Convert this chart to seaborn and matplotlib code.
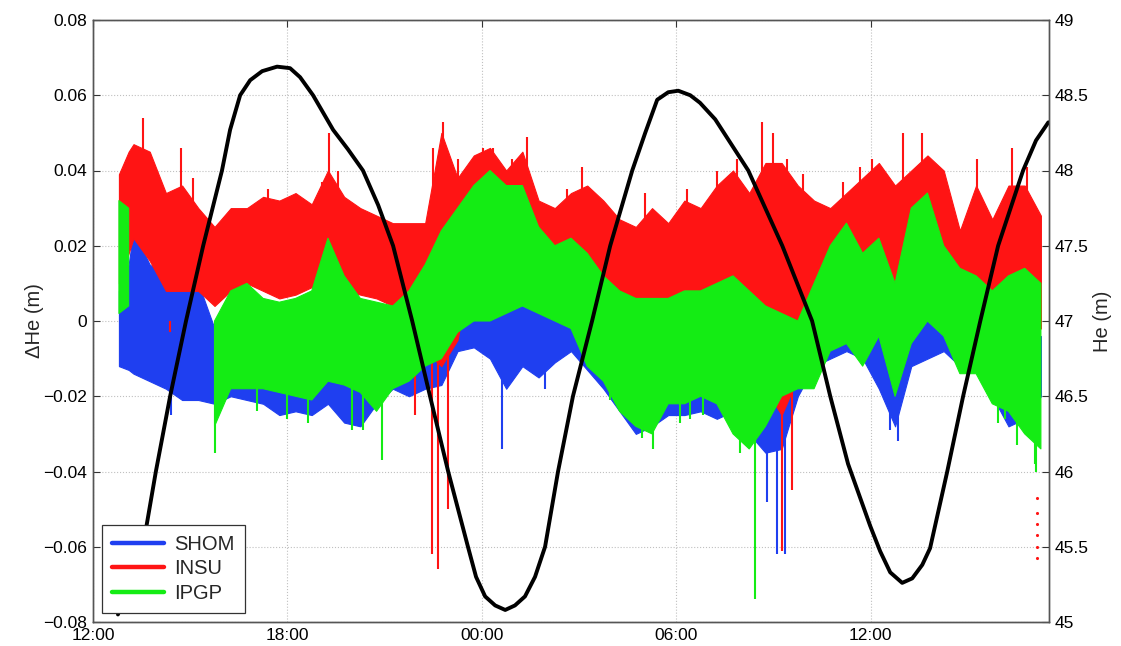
import numpy as np
import pandas as pd
import matplotlib
matplotlib.use('Agg')
import matplotlib.pyplot as plt
from matplotlib.lines import Line2D
from matplotlib.ticker import FuncFormatter
import seaborn as sns

# sample times, hours after 12:00 on day 1
hours = [0.8, 1.1, 1.25, 1.75, 2.25, 2.75, 3.25, 3.75, 4.25, 4.75, 5.25, 5.75, 6.25, 6.75,
         7.25, 7.75, 8.25, 8.75, 9.25, 9.75, 10.25, 10.75, 11.25, 11.75, 12.25, 12.75,
         13.25, 13.75, 14.25, 14.75, 15.25, 15.75, 16.25, 16.75, 17.25, 17.75, 18.25,
         18.75, 19.25, 19.75, 20.25, 20.75, 21.25, 21.75, 22.25, 22.75, 23.25, 23.75,
         24.25, 24.75, 25.25, 25.75, 26.25, 26.75, 27.25, 27.75, 28.25, 28.75, 29.25]

# SHOM (blue) envelope
shom_hi = [.008, .015, .024, .015, .012, .010, .010, -.002, -.004, -.004, -.004, -.004, -.004,
           -.004, .000, -.004, -.004, -.004, -.004, -.002, .002, .004, .010, .012, .014, .012,
           .016, .010, .008, .008, .004, .000, -.004, -.006, -.006, -.004, -.004, -.004, -.004,
           -.004, -.004, .010, .010, .008, .006, .006, .006, .006, .004, .002, .008, .008, .004,
           .000, -.002, -.004, -.004, -.004, -.004]
shom_lo = [-.012, -.013, -.014, -.016, -.018, -.021, -.021, -.022, -.020, -.021, -.022, -.025,
           -.024, -.025, -.022, -.027, -.028, -.022, -.018, -.020, -.018, -.017, -.008, -.007,
           -.010, -.018, -.012, -.015, -.011, -.008, -.013, -.018, -.024, -.030, -.028, -.025,
           -.025, -.024, -.026, -.024, -.030, -.035, -.034, -.020, -.012, -.010, -.008, -.010,
           -.018, -.028, -.012, -.010, -.008, -.012, -.010, -.020, -.028, -.026, -.020]

# INSU (red) envelope
insu_hi = [.039, .045, .047, .045, .034, .036, .030, .025, .030, .030, .033, .032, .034, .031,
           .040, .033, .030, .028, .026, .026, .026, .050, .038, .044, .046, .040, .045, .032,
           .030, .034, .036, .032, .027, .025, .030, .026, .032, .030, .036, .040, .034, .042,
           .042, .036, .032, .030, .034, .038, .042, .036, .040, .044, .040, .024, .036, .027,
           .036, .036, .028]
insu_lo = [.010, .018, .022, .016, .008, .008, .008, .004, .008, .010, .008, .006, .007, .009,
           .012, .008, .007, .006, .004, .000, -.008, -.012, -.005, .018, .020, .020, .020, .015,
           .012, .008, .008, .004, .000, -.003, -.006, .000, .000, .000, .002, .000, -.005,
           -.018, -.025, -.015, -.004, .004, .010, .008, .006, .000, .000, .006, .008, .006,
           .004, .004, .003, .000, -.002]

# IPGP (green) envelope, nan = no data
nan = np.nan
ipgp_hi = [.032, .030, nan, nan, nan, nan, nan, .000, .008, .010, .006, .005, .006, .008,
           .022, .012, .006, .005, .004, .008, .015, .024, .030, .036, .040, .036, .036, .025,
           .020, .022, .018, .012, .008, .006, .006, .006, .008, .008, .010, .012, .008, .004,
           .002, .000, .010, .020, .026, .018, .022, .010, .030, .034, .020, .014, .012, .008,
           .012, .014, .010]
ipgp_lo = [.002, .004, nan, nan, nan, nan, nan, -.028, -.018, -.018, -.018, -.019, -.020, -.021,
           -.016, -.017, -.019, -.024, -.018, -.016, -.012, -.010, -.003, .000, .000, .002, .004,
           .002, .000, -.002, -.012, -.016, -.024, -.028, -.030, -.022, -.022, -.020, -.022,
           -.030, -.034, -.028, -.020, -.018, -.018, -.008, -.006, -.012, -.004, -.020, -.006,
           .000, -.004, -.014, -.014, -.022, -.024, -.030, -.034]

# isolated spikes / streaks (time, tip value)
insu_spike_t = [1.54, 2.72, 3.09, 5.40, 7.07, 7.28, 7.56, 10.49, 10.80, 11.27, 12.04, 12.35,
                12.93, 13.40, 14.63, 15.09, 15.43, 17.04, 18.33, 19.26, 19.88, 20.65, 20.99,
                21.42, 21.91, 23.15, 23.67, 24.04, 25.0, 25.59, 27.28, 28.36, 28.83,
                2.38, 9.94, 10.46, 10.65, 10.96, 21.27, 21.57]
insu_spike_v = [0.054, 0.046, 0.038, 0.035, 0.037, 0.050, 0.040, 0.046, 0.053, 0.043, 0.046,
                0.046, 0.043, 0.049, 0.035, 0.041, 0.034, 0.034, 0.035, 0.040, 0.043, 0.053,
                0.050, 0.043, 0.039, 0.037, 0.041, 0.043, 0.050, 0.050, 0.043, 0.046, 0.041,
                -0.003, -0.025, -0.062, -0.066, -0.050, -0.061, -0.045]
shom_spike_t = [2.41, 12.62, 12.93, 13.95, 20.80, 21.11, 21.36, 24.60, 24.85]
shom_spike_v = [-0.025, -0.034, -0.016, -0.018, -0.048, -0.062, -0.062, -0.029, -0.032]
ipgp_spike_t = [3.77, 5.06, 5.99, 6.64, 7.99, 8.33, 8.92, 15.96, 16.27, 16.94, 17.28, 18.12,
                18.43, 18.83, 19.97, 20.22, 20.43, 27.93, 28.15, 28.52, 29.07, 29.10]
ipgp_spike_v = [-0.035, -0.024, -0.026, -0.027, -0.029, -0.029, -0.037, -0.021, -0.024,
                -0.031, -0.034, -0.027, -0.026, -0.025, -0.035, -0.033, -0.074, -0.027,
                -0.026, -0.033, -0.038, -0.040]
insu_dot_t = [29.14, 29.14, 29.14, 29.14, 29.14, 29.14]
insu_dot_v = [-0.047, -0.051, -0.054, -0.057, -0.060, -0.063]

# He (right axis)
he_hours = [0.77, 1.54, 1.94, 2.38, 2.87, 3.40, 3.98, 4.23, 4.54, 4.85, 5.22, 5.68, 6.08, 6.39,
            6.79, 7.41, 7.87, 8.33, 8.80, 9.26, 9.85, 10.40, 10.96, 11.57, 11.82, 12.10, 12.41,
            12.72, 13.02, 13.33, 13.64, 13.95, 14.35, 14.81, 15.40, 15.96, 16.64, 17.04, 17.41,
            17.75, 18.06, 18.43, 18.73, 19.20, 20.22, 21.27, 22.19, 22.75, 23.30, 23.98, 24.29,
            24.60, 24.97, 25.28, 25.59, 25.83, 26.36, 26.85, 27.38, 27.93, 28.70, 29.10, 29.48]
he_m = [45.05, 45.5, 46.0, 46.5, 47.0, 47.5, 48.0, 48.27, 48.5, 48.60, 48.66, 48.69, 48.68, 48.62,
        48.5, 48.27, 48.14, 48.0, 47.77, 47.5, 47.0, 46.5, 46.0, 45.5, 45.30, 45.17, 45.11,
        45.08, 45.11, 45.17, 45.30, 45.5, 46.0, 46.5, 47.0, 47.5, 48.0, 48.25, 48.47,
        48.52, 48.53, 48.50, 48.45, 48.34, 48.0, 47.5, 47.0, 46.5, 46.05, 45.64, 45.47,
        45.33, 45.26, 45.29, 45.38, 45.49, 46.0, 46.5, 47.0, 47.5, 48.0, 48.2, 48.32]

xticks = [0, 6, 12, 18, 24]
xtick_labels = ['12:00', '18:00', '00:00', '06:00', '12:00']

c_shom = '#1f3ff0'
c_insu = '#ff1414'
c_ipgp = '#14ec14'

sns.set_style('white')
plt.rcParams['font.family'] = ['Liberation Sans', 'DejaVu Sans']

fig = plt.figure(figsize=(11.21, 6.46), dpi=100)
ax = fig.add_axes([93/1121, 1 - 622/646, 956/1121, 602/646])
ax2 = ax.twinx()

series = [
    (shom_lo, shom_hi, c_shom, shom_spike_t, shom_spike_v),
    (insu_lo, insu_hi, c_insu, insu_spike_t, insu_spike_v),
    (ipgp_lo, ipgp_hi, c_ipgp, ipgp_spike_t, ipgp_spike_v),
]
for i, (lo, hi, col, st, sv) in enumerate(series):
    z = 2 + i
    ax.fill_between(hours, np.array(lo, float), np.array(hi, float), color=col,
                    lw=0.8, edgecolor=col, zorder=z)
    base = [0.02 if v > 0 else 0.0 for v in sv]
    ax.vlines(st, base, sv, color=col, lw=1.5, zorder=z)

sns.scatterplot(x=insu_dot_t, y=insu_dot_v, ax=ax, color=c_insu, s=5, linewidth=0, zorder=3)

sns.lineplot(x=he_hours, y=he_m, ax=ax2, color='black', lw=2.8, sort=False, estimator=None,
             solid_joinstyle='round', solid_capstyle='round')

ax.set_xlim(0, 29.5)
ax.set_ylim(-0.08, 0.08)
ax2.set_ylim(45, 49)
ax.set_xticks(xticks)
ax.set_xticklabels(xtick_labels)
ax.set_yticks(np.linspace(-0.08, 0.08, 9))
ax2.set_yticks(np.linspace(45, 49, 9))
ax.yaxis.set_major_formatter(FuncFormatter(lambda v, p: f"{round(v, 3):g}".replace('-', '\u2212')))
ax2.yaxis.set_major_formatter(FuncFormatter(lambda v, p: f"{v:g}"))

ax.grid(True, ls=':', color='#c0c0c0', lw=0.8)
ax.set_axisbelow(True)
ax.tick_params(direction='in', top=True, right=False, length=5, labelsize=12.5, pad=4,
               colors='#333333', labelcolor='black')
ax2.tick_params(direction='in', length=5, labelsize=12.5, pad=4, colors='#333333',
                labelcolor='black')
for a in (ax, ax2):
    for s in a.spines.values():
        s.set_color('#555555')
        s.set_linewidth(1.0)

ax.set_ylabel('\u0394He (m)', fontsize=14.5, labelpad=0)
ax2.set_ylabel('He (m)', fontsize=14.5, labelpad=3)
ax.set_xlabel('')

handles = [Line2D([], [], color=c_shom, lw=3.2, label='SHOM'),
           Line2D([], [], color=c_insu, lw=3.2, label='INSU'),
           Line2D([], [], color=c_ipgp, lw=3.2, label='IPGP')]
leg = ax2.legend(handles=handles, loc='lower left', bbox_to_anchor=(0.009, 0.015),
                 borderaxespad=0, fontsize=14.5, fancybox=False, framealpha=1,
                 edgecolor='#333333', handlelength=2.6, labelspacing=0.28,
                 borderpad=0.5, handletextpad=0.5)
leg.get_frame().set_linewidth(0.9)

fig.savefig('out.png', dpi=100)
